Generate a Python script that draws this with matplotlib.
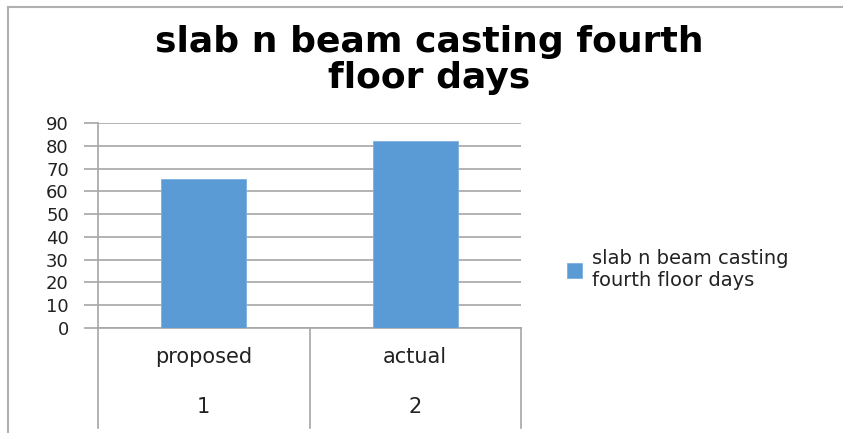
import matplotlib.pyplot as plt
from matplotlib.lines import Line2D
from matplotlib.transforms import blended_transform_factory

# data
categories = ["proposed", "actual"]
category_numbers = ["1", "2"]
days = [65.6, 82.1]
series_name = "slab n beam casting\nfourth floor days"
title = "slab n beam casting fourth\nfloor days"

W, H = 843, 433
fig = plt.figure(figsize=(W / 100, H / 100), dpi=100)
ax = fig.add_axes([98 / W, 1 - 328 / H, (521 - 98) / W, (328 - 123) / H])

x = range(len(categories))
ax.bar(x, days, width=0.4, color="#5B9BD5", edgecolor="#7fb0e0", linewidth=0.6,
       label=series_name, zorder=3)

ax.set_xlim(-0.5, len(categories) - 0.5)
ax.set_ylim(0, 90)
ax.set_yticks(range(0, 91, 10))
ax.yaxis.grid(True, color="#a6a6a6", linewidth=1.2, zorder=0)
for s in ["top", "right"]:
    ax.spines[s].set_visible(False)
for s in ["left", "bottom"]:
    ax.spines[s].set_color("#a6a6a6")
    ax.spines[s].set_linewidth(1.2)
ax.tick_params(axis="y", length=10, width=1.2, color="#a6a6a6", pad=11,
               labelsize=13, labelcolor="#222222")
ax.tick_params(axis="x", bottom=False, labelbottom=False)

# two-level category axis
tr = blended_transform_factory(ax.transData, ax.transAxes)
y_bottom = -(428 - 328) / 205
for xs in [-0.5 + i for i in range(len(categories) + 1)]:
    ax.add_line(Line2D([xs, xs], [0, y_bottom], transform=tr, color="#a6a6a6",
                       linewidth=1.2, clip_on=False))
for i, (c, n) in enumerate(zip(categories, category_numbers)):
    ax.text(i, -(357 - 328) / 205, c, transform=tr, ha="center", va="center",
            fontsize=15, color="#222222")
    ax.text(i, -(407 - 328) / 205, n, transform=tr, ha="center", va="center",
            fontsize=15, color="#222222")

fig.text(429 / W, 1 - 60 / H, title, ha="center", va="center", fontsize=26,
         fontweight="bold", linespacing=1.05)

leg = fig.legend(loc="center left", bbox_to_anchor=(549 / W, 1 - 270 / H),
                 frameon=False, prop={"size": 14},
                 handlelength=0.8, handleheight=0.8, handletextpad=0.5,
                 labelspacing=0.2)
for t in leg.get_texts():
    t.set_color("#222222")
    t.set_linespacing(1.2)

# outer chart border
fig.add_artist(Line2D([8 / W, 8 / W], [0, 1 - 7 / H], color="#b0b0b0", linewidth=1.5))
fig.add_artist(Line2D([8 / W, 1], [1 - 7 / H, 1 - 7 / H], color="#b0b0b0", linewidth=1.5))

fig.savefig("out.png", dpi=100)
